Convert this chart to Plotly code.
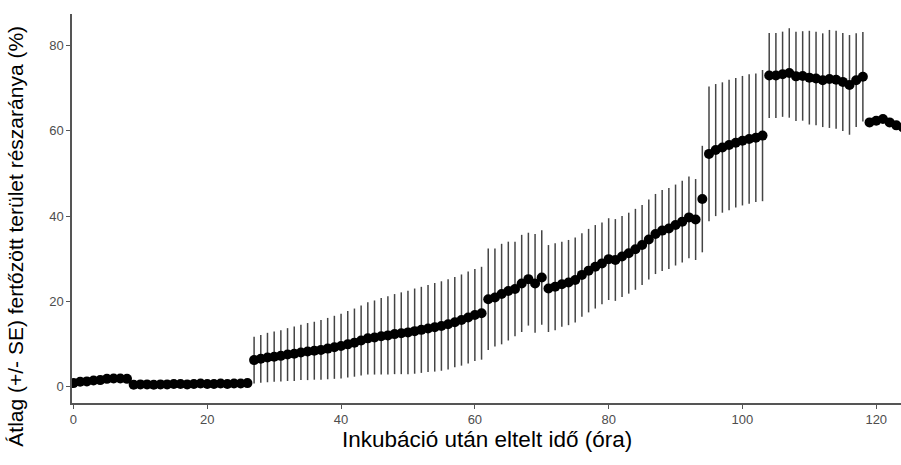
import plotly.graph_objects as go

# time points (hours after incubation), per measurement block
hours_1 = [0, 1, 2, 3, 4, 5, 6, 7, 8]
hours_2 = list(range(9, 27))
hours_3 = list(range(27, 62))
hours_4 = list(range(62, 71))
hours_5 = list(range(71, 94))
hours_6 = [94]
hours_7 = list(range(95, 104))
hours_8 = list(range(104, 119))
hours_9 = [119, 120, 121, 122, 123, 124]

mean_1 = [0.8, 1.1, 1.2, 1.4, 1.5, 1.8, 1.9, 1.9, 1.8]
mean_2 = [0.4, 0.5, 0.5, 0.4, 0.5, 0.5, 0.6, 0.6, 0.5, 0.6, 0.7, 0.6, 0.6, 0.7, 0.6, 0.7, 0.7, 0.8]
mean_3 = [6.2, 6.5, 6.8, 7.0, 7.2, 7.5, 7.7, 8.0, 8.2, 8.4, 8.6, 8.9, 9.2, 9.5, 9.9, 10.3, 10.8,
          11.3, 11.5, 11.8, 12.0, 12.3, 12.5, 12.7, 13.0, 13.3, 13.6, 13.9, 14.2, 14.6, 15.1, 15.6,
          16.2, 16.8, 17.2]
mean_4 = [20.5, 20.9, 21.7, 22.4, 22.9, 24.2, 25.2, 24.2, 25.6]
mean_5 = [23.0, 23.4, 24.0, 24.4, 25.0, 26.2, 27.2, 28.1, 28.9, 29.9, 29.7, 30.5, 31.3, 32.2, 33.2,
          34.5, 35.8, 36.6, 37.1, 37.9, 38.7, 39.7, 39.2]
mean_6 = [44.0]
mean_7 = [54.6, 55.5, 56.1, 56.7, 57.2, 57.7, 58.1, 58.4, 58.9]
mean_8 = [73.0, 73.0, 73.3, 73.6, 72.8, 72.9, 72.5, 72.3, 71.9, 72.2, 72.0, 71.5, 70.8, 71.9, 72.7]
mean_9 = [62.0, 62.4, 62.8, 62.0, 61.3, 60.8]

se_1 = [0.3] * 9
se_2 = [0.3] * 18
se_3 = [5.5, 5.6, 5.8, 5.9, 6.0, 6.2, 6.4, 6.5, 6.7, 6.8, 7.0, 7.2, 7.4, 7.6, 7.8, 8.0, 8.2, 8.5,
        8.7, 9.0, 9.2, 9.4, 9.6, 9.8, 10.0, 10.1, 10.2, 10.4, 10.5, 10.6, 10.6, 10.7, 10.8, 10.8, 10.9]
se_4 = [11.9, 11.5, 11.8, 11.6, 11.1, 11.4, 10.9, 11.6, 11.1]
se_5 = [10.2, 10.2, 10.0, 10.0, 10.0, 9.8, 9.8, 9.8, 9.6, 9.6, 9.6, 9.5, 9.5, 9.5, 9.4, 9.4, 9.4,
        9.5, 9.5, 9.5, 9.6, 9.6, 9.5]
se_6 = [12.5]
se_7 = [15.8, 15.5, 15.3, 15.3, 15.2, 15.2, 15.2, 15.1, 15.4]
se_8 = [10.0, 10.0, 10.0, 10.5, 10.5, 10.5, 11.0, 11.0, 11.0, 11.5, 11.5, 11.5, 11.7, 11.0, 10.5]
se_9 = [0.3] * 6

x_ticks = [0, 20, 40, 60, 80, 100, 120]
y_ticks = [0, 20, 40, 60, 80]

x_title = "Inkubáció után eltelt idő (óra)"
y_title = "Átlag (+/- SE) fertőzött terület részaránya (%)"

hours = hours_1 + hours_2 + hours_3 + hours_4 + hours_5 + hours_6 + hours_7 + hours_8 + hours_9
means = mean_1 + mean_2 + mean_3 + mean_4 + mean_5 + mean_6 + mean_7 + mean_8 + mean_9
ses = se_1 + se_2 + se_3 + se_4 + se_5 + se_6 + se_7 + se_8 + se_9

FONT = "Liberation Sans, Arial, sans-serif"

fig = go.Figure()
fig.add_trace(go.Scatter(
    x=hours, y=means, mode="markers",
    marker=dict(color="black", size=10, line=dict(width=0)),
    error_y=dict(type="data", array=ses, visible=True, width=0, thickness=1.5, color="#444444"),
    showlegend=False,
))

axis_common = dict(
    showline=True, linecolor="#555555", linewidth=1.5,
    ticks="outside", ticklen=4, tickwidth=1.2, tickcolor="#555555",
    showgrid=False, zeroline=False, automargin=False,
    tickfont=dict(family=FONT, size=13, color="#4d4d4d"),
)

fig.update_layout(
    width=901, height=465,
    margin=dict(l=72, r=0, t=14, b=62),
    paper_bgcolor="white", plot_bgcolor="white",
    xaxis=dict(range=[-0.22, 123.7], tickvals=x_ticks, **axis_common),
    yaxis=dict(range=[-3.87, 87.44], tickvals=y_ticks, **axis_common),
    annotations=[
        dict(text=x_title, xref="paper", yref="paper", x=0.5, y=-0.095,
             xanchor="center", yanchor="middle", showarrow=False,
             font=dict(family=FONT, size=22.5, color="black")),
        dict(text=y_title, xref="paper", yref="paper", x=-0.0676, y=0.43,
             xanchor="center", yanchor="middle", textangle=-90, showarrow=False,
             font=dict(family=FONT, size=21, color="black")),
    ],
)

fig.write_html(
    "out.html",
    config={"displayModeBar": False},
    post_script="document.body.style.margin='0';document.body.style.overflow='hidden';",
)
